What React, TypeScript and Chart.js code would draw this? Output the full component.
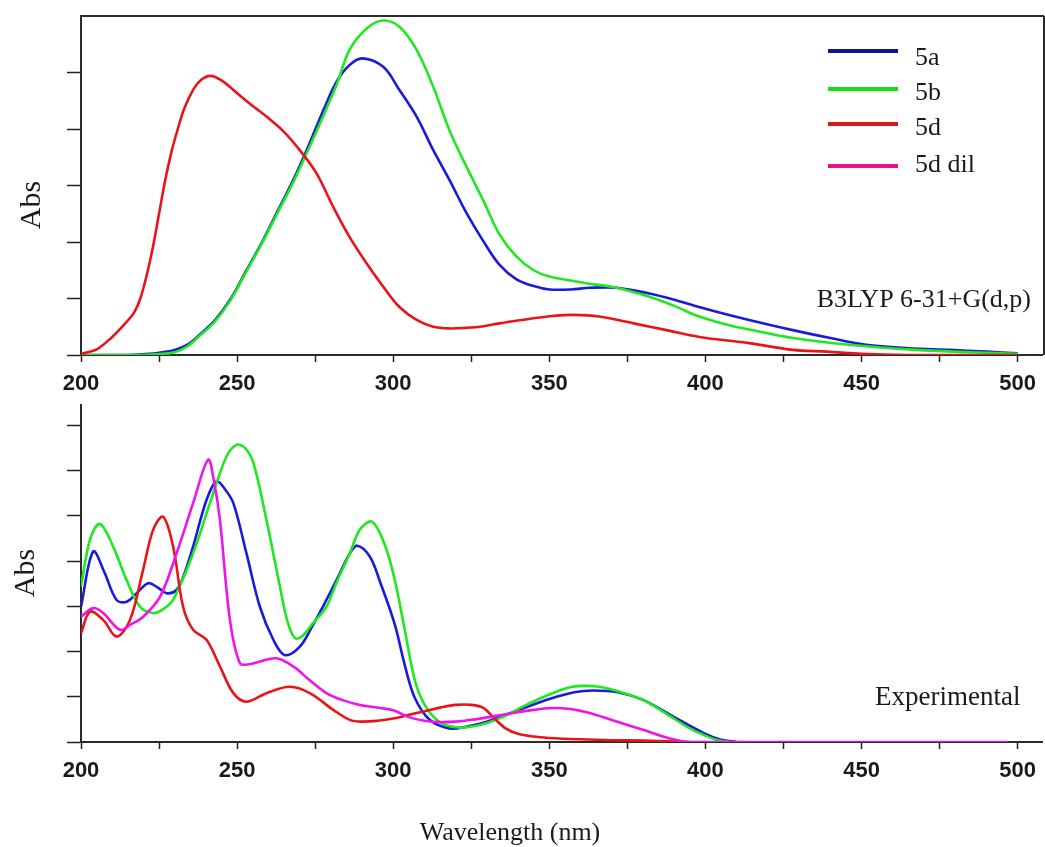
import React, { useEffect, useRef } from 'react';
import { Chart, registerables } from 'chart.js';
Chart.register(...registerables);

// ---------- Data ----------
const X_MIN = 200;
const X_MAX = 508;
const X_TICK_STEP = 25;
const X_LABEL_STEP = 50;
const TOP_Y_MAX = 6;
const BOT_Y_MAX = 7.45;

const legendLabels = ['5a', '5b', '5d', '5d dil'];
const topNote = 'B3LYP 6-31+G(d,p)';
const botNote = 'Experimental';
const yTitle = 'Abs';
const xTitle = 'Wavelength (nm)';

// Top panel (B3LYP)
const top5aX = [200, 215, 222, 226, 230, 234, 238, 243, 248, 253, 258, 263, 268, 273, 278, 282, 286, 290, 296.8, 302, 307.5, 312.8, 318, 323.5, 328.8, 334, 339.5, 345, 350, 357, 363, 371.5, 382, 390, 398, 406, 414, 428, 440, 451.5, 465, 478, 490, 500];
const top5aY = [0, 0, 0.02, 0.05, 0.09, 0.18, 0.36, 0.62, 1.0, 1.5, 2.0, 2.55, 3.1, 3.72, 4.38, 4.85, 5.13, 5.25, 5.1, 4.69, 4.22, 3.63, 3.1, 2.51, 2.02, 1.6, 1.34, 1.22, 1.16, 1.16, 1.19, 1.19, 1.09, 0.98, 0.85, 0.73, 0.62, 0.44, 0.3, 0.18, 0.12, 0.09, 0.06, 0.03];

const top5bX = [200, 220, 226, 230, 234, 238, 243, 248, 253, 258, 263, 268, 273, 278, 282, 286, 291.5, 296.8, 302, 307.5, 312.8, 318, 323.5, 328.8, 334, 339.5, 345, 350, 360.8, 371.5, 382, 390, 398, 406, 414, 428, 446, 467.5, 485, 500];
const top5bY = [0, 0, 0.02, 0.05, 0.15, 0.34, 0.6, 0.98, 1.48, 1.98, 2.52, 3.06, 3.66, 4.28, 4.8, 5.4, 5.78, 5.92, 5.81, 5.4, 4.75, 3.98, 3.33, 2.74, 2.14, 1.74, 1.5, 1.39, 1.28, 1.19, 1.03, 0.87, 0.68, 0.55, 0.45, 0.3, 0.18, 0.09, 0.05, 0.02];

const top5dX = [200, 205, 210, 214, 217, 219, 221, 223, 225, 227, 229, 231, 233, 236, 238.5, 241.5, 245, 248.8, 254, 259.4, 265, 270, 275.4, 280.8, 286, 291.5, 296.8, 302, 307.5, 312.8, 318, 323, 329, 334, 340, 345, 351, 357.6, 366, 377, 387.5, 398, 414, 428, 439, 450, 465, 500];
const top5dY = [0.02, 0.1, 0.32, 0.55, 0.75, 1.0, 1.4, 1.9, 2.5, 3.1, 3.6, 4.0, 4.35, 4.7, 4.87, 4.94, 4.86, 4.69, 4.45, 4.22, 3.95, 3.63, 3.22, 2.62, 2.09, 1.62, 1.21, 0.85, 0.62, 0.5, 0.47, 0.48, 0.51, 0.56, 0.61, 0.65, 0.69, 0.71, 0.68, 0.56, 0.44, 0.32, 0.21, 0.09, 0.06, 0.02, 0, 0];

// Bottom panel (Experimental)
const exp5aX = [200, 203.9, 207.5, 211.4, 214.6, 218, 221.5, 224.5, 227.4, 230.6, 233, 235.9, 240.2, 243.4, 246, 248.8, 253, 257.3, 261.6, 265.3, 270.1, 274, 278.6, 282, 286.1, 288.5, 292.5, 296, 300.5, 303.7, 306.9, 311.7, 318, 324, 330, 340, 350, 358, 364, 372, 380, 390, 400, 405, 410];
const exp5aY = [2.99, 4.21, 3.75, 3.14, 3.1, 3.3, 3.51, 3.42, 3.29, 3.36, 3.7, 4.32, 5.35, 5.76, 5.6, 5.28, 4.17, 2.99, 2.26, 1.92, 2.11, 2.55, 3.14, 3.6, 4.17, 4.34, 4.1, 3.5, 2.6, 1.7, 0.98, 0.49, 0.3, 0.35, 0.45, 0.7, 0.95, 1.1, 1.14, 1.1, 0.93, 0.55, 0.18, 0.05, 0];

const exp5bX = [200, 203, 206.1, 210.3, 214.6, 218.9, 223.1, 226, 229.5, 235.9, 241.3, 246.6, 249.8, 252.5, 255.2, 259.4, 263.7, 266, 268.5, 271, 274, 278.6, 282, 286.1, 289.3, 293.2, 297.3, 300.5, 303.7, 306.9, 310.1, 314.9, 321, 328, 335, 342, 350, 356, 361, 366, 372, 380, 388, 395, 400, 404, 408];
const exp5bY = [3.44, 4.5, 4.82, 4.32, 3.58, 2.99, 2.85, 2.92, 3.14, 4.17, 5.28, 6.31, 6.57, 6.5, 6.17, 4.91, 3.44, 2.7, 2.3, 2.35, 2.6, 2.99, 3.55, 4.17, 4.69, 4.87, 4.36, 3.58, 2.48, 1.37, 0.82, 0.44, 0.32, 0.38, 0.55, 0.8, 1.05, 1.2, 1.24, 1.22, 1.12, 0.93, 0.6, 0.3, 0.14, 0.04, 0];

const exp5dX = [200, 202.9, 207.1, 211.4, 215.7, 219.9, 223.1, 226.3, 229.5, 232.7, 235.9, 240.2, 244.5, 248.8, 253, 259.4, 266.9, 273.3, 280.8, 286.1, 290, 295, 300, 305, 310, 315, 320, 325, 329, 332, 336, 340, 345, 350, 360, 370, 380, 390, 395];
const exp5dY = [2.4, 2.88, 2.7, 2.33, 2.7, 3.81, 4.69, 4.98, 4.32, 2.99, 2.48, 2.26, 1.67, 1.08, 0.89, 1.08, 1.22, 1.08, 0.71, 0.49, 0.45, 0.47, 0.52, 0.6, 0.68, 0.76, 0.82, 0.82, 0.75, 0.55, 0.3, 0.18, 0.12, 0.09, 0.06, 0.04, 0.03, 0.01, 0];

const exp5dDilX = [200, 203.9, 207.1, 212.5, 216, 219.9, 225.3, 230.6, 235.9, 240.7, 242.5, 244.5, 247.7, 250.9, 254, 257.3, 262.6, 268, 273, 278.6, 284, 289.3, 293, 296, 300, 305, 310, 315, 320, 325, 335, 345, 353, 362, 372, 380, 388, 395, 420, 497];
const exp5dDilY = [2.77, 2.96, 2.85, 2.48, 2.6, 2.77, 3.21, 4.17, 5.28, 6.24, 5.8, 4.91, 2.7, 1.74, 1.72, 1.78, 1.85, 1.67, 1.38, 1.08, 0.92, 0.82, 0.78, 0.75, 0.7, 0.55, 0.47, 0.44, 0.45, 0.49, 0.6, 0.71, 0.75, 0.66, 0.44, 0.27, 0.09, 0, 0, 0];

// ---------- Styles ----------
const curveColors = ['#1a1adc', '#1ee81e', '#e8141a', '#f014e8'];
const legendColors = ['#14148c', '#12e012', '#e01515', '#f01080'];
const TICK_FONT = { family: "'Liberation Sans Narrow','Arial Narrow','Liberation Sans',Arial,sans-serif", weight: 'bold' as const, size: 22 };
const SERIF = "'Liberation Serif','Times New Roman',serif";
const INK = '#1a1a1a';

function pts(xs: number[], ys: number[]) {
  return xs.map((x, i) => ({ x, y: ys[i] }));
}

function ds(label: string, xs: number[], ys: number[], color: string, order: number) {
  return {
    label,
    data: pts(xs, ys),
    borderColor: color,
    backgroundColor: color,
    borderWidth: 2.6,
    pointRadius: 0,
    tension: 0.35,
    fill: false,
    order,
  };
}

type Item =
  | { kind: 'text'; text: string; x: number; y: number; size: number; align?: CanvasTextAlign; rotate?: boolean }
  | { kind: 'line'; x1: number; y1: number; x2: number; y2: number; color: string; width: number };

function annotPlugin(items: Item[]) {
  return {
    id: 'annot',
    afterDraw(chart: any) {
      const ctx: CanvasRenderingContext2D = chart.ctx;
      ctx.save();
      for (const it of items) {
        if (it.kind === 'line') {
          ctx.strokeStyle = it.color;
          ctx.lineWidth = it.width;
          ctx.lineCap = 'butt';
          ctx.beginPath();
          ctx.moveTo(it.x1, it.y1);
          ctx.lineTo(it.x2, it.y2);
          ctx.stroke();
        } else {
          ctx.fillStyle = INK;
          ctx.font = `${it.size}px ${SERIF}`;
          if (it.rotate) {
            ctx.save();
            ctx.translate(it.x, it.y);
            ctx.rotate(-Math.PI / 2);
            ctx.textAlign = 'center';
            ctx.textBaseline = 'middle';
            ctx.fillText(it.text, 0, 0);
            ctx.restore();
          } else {
            ctx.textAlign = it.align || 'left';
            ctx.textBaseline = 'alphabetic';
            ctx.fillText(it.text, it.x, it.y);
          }
        }
      }
      ctx.restore();
    },
  };
}

function makeOptions(yMax: number, topPad: number, xAxisHeight: number) {
  return {
    responsive: false,
    maintainAspectRatio: false,
    animation: false as const,
    devicePixelRatio: 1,
    layout: { padding: { top: topPad, right: 1, left: 0, bottom: 0 } },
    plugins: { legend: { display: false }, tooltip: { enabled: false }, title: { display: false } },
    scales: {
      x: {
        type: 'linear' as const,
        min: X_MIN,
        max: X_MAX,
        afterFit(s: any) { s.height = xAxisHeight; },
        border: { display: true, color: '#2a2a2a', width: 2 },
        grid: { drawOnChartArea: false, drawTicks: true, tickLength: 7, color: '#222', tickWidth: 1.5 },
        ticks: {
          stepSize: X_TICK_STEP,
          autoSkip: false,
          includeBounds: false,
          maxRotation: 0,
          padding: 9,
          color: INK,
          font: TICK_FONT,
          callback: (v: any) => (Number(v) % X_LABEL_STEP === 0 ? String(v) : ''),
        },
      },
      y: {
        type: 'linear' as const,
        min: 0,
        max: yMax,
        afterFit(s: any) { s.width = 81; },
        border: { display: true, color: '#2a2a2a', width: 2 },
        grid: {
          drawOnChartArea: false,
          drawTicks: true,
          tickLength: 14,
          tickWidth: 1.5,
          color: '#222',
          tickColor: (c: any) => (c.tick && c.tick.value >= TOP_Y_MAX && yMax === TOP_Y_MAX ? 'rgba(0,0,0,0)' : '#222'),
        },
        ticks: { stepSize: 1, includeBounds: false, padding: 0, callback: () => '' },
      },
    },
  };
}

export default function App() {
  const topRef = useRef<HTMLCanvasElement>(null);
  const botRef = useRef<HTMLCanvasElement>(null);

  useEffect(() => {
    const legendBase = [51, 89, 124, 166];
    const legendText = [65, 100, 135, 172];
    const topItems: Item[] = [
      { kind: 'line', x1: 81, y1: 16, x2: 1044, y2: 16, color: '#2a2a2a', width: 2 },
      { kind: 'line', x1: 1044, y1: 16, x2: 1044, y2: 355, color: '#2a2a2a', width: 2 },
      ...legendLabels.map((_, i) => ({ kind: 'line' as const, x1: 828, y1: legendBase[i], x2: 898, y2: legendBase[i], color: legendColors[i], width: 4 })),
      ...legendLabels.map((t, i) => ({ kind: 'text' as const, text: t, x: 915, y: legendText[i], size: 26 })),
      { kind: 'text', text: topNote, x: 1031, y: 307, size: 26, align: 'right' },
      { kind: 'text', text: yTitle, x: 32, y: 205, size: 30, rotate: true },
    ];
    const botItems: Item[] = [
      { kind: 'text', text: botNote, x: 875, y: 325, size: 27 },
      { kind: 'text', text: yTitle, x: 26, y: 193, size: 30, rotate: true },
      { kind: 'text', text: xTitle, x: 510, y: 460, size: 26, align: 'center' },
    ];

    const c1 = new Chart(topRef.current as HTMLCanvasElement, {
      type: 'line',
      data: {
        datasets: [
          ds(legendLabels[0], top5aX, top5aY, curveColors[0], 2),
          ds(legendLabels[1], top5bX, top5bY, curveColors[1], 1),
          ds(legendLabels[2], top5dX, top5dY, curveColors[2], 0),
        ],
      },
      options: makeOptions(TOP_Y_MAX, 16, 45) as any,
      plugins: [annotPlugin(topItems)],
    });
    const c2 = new Chart(botRef.current as HTMLCanvasElement, {
      type: 'line',
      data: {
        datasets: [
          ds(legendLabels[0], exp5aX, exp5aY, curveColors[0], 3),
          ds(legendLabels[1], exp5bX, exp5bY, curveColors[1], 2),
          ds(legendLabels[2], exp5dX, exp5dY, curveColors[2], 1),
          ds(legendLabels[3], exp5dDilX, exp5dDilY, curveColors[3], 0),
        ],
      },
      options: makeOptions(BOT_Y_MAX, 25, 105) as any,
      plugins: [annotPlugin(botItems)],
    });
    return () => {
      c1.destroy();
      c2.destroy();
    };
  }, []);

  return (
    <div style={{ position: 'absolute', left: 0, top: 0, width: 1045, height: 847, background: '#fff' }}>
      <canvas ref={topRef} width={1045} height={400} style={{ position: 'absolute', left: 0, top: 0, width: 1045, height: 400 }} />
      <canvas ref={botRef} width={1045} height={467} style={{ position: 'absolute', left: 0, top: 380, width: 1045, height: 467 }} />
    </div>
  );
}
